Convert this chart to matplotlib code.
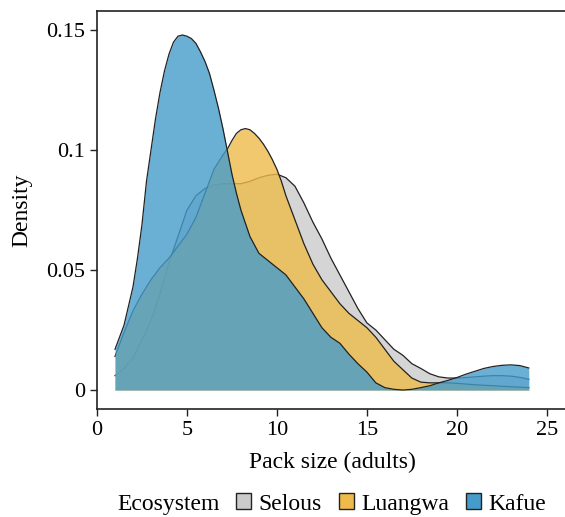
import matplotlib
matplotlib.use('Agg')
import matplotlib.pyplot as plt
from matplotlib.patches import Patch
from matplotlib.offsetbox import HPacker

plt.rcParams['font.family'] = ['Liberation Serif', 'DejaVu Serif']

# Selous: pack size grid and density
selous_x = [1.0, 1.5, 2.0, 2.5, 3.0, 3.5, 4.0, 4.5, 5.0, 5.5, 6.0, 6.5, 7.0, 7.5,
            8.0, 8.5, 9.0, 9.5, 10.0, 10.5, 11.0, 11.5, 12.0, 12.5, 13.0, 13.5,
            14.0, 14.5, 15.0, 15.5, 16.0, 16.5, 17.0, 17.5, 18.0, 18.5, 19.0,
            19.5, 20.0, 20.5, 21.0, 21.5, 22.0, 22.5, 23.0, 23.5, 24.0]
selous = [0.006, 0.009, 0.0135, 0.021, 0.029, 0.040, 0.053, 0.064, 0.075, 0.081,
          0.084, 0.0855, 0.086, 0.086, 0.086, 0.087, 0.0885, 0.0895, 0.090, 0.0885,
          0.085, 0.078, 0.070, 0.063, 0.055, 0.048, 0.041, 0.034, 0.028, 0.025,
          0.021, 0.017, 0.0145, 0.011, 0.009, 0.0068, 0.0055, 0.005, 0.005, 0.0052,
          0.0055, 0.0058, 0.006, 0.006, 0.0058, 0.0053, 0.0045]

# Luangwa
luangwa_x = [1.0, 1.5, 2.0, 2.5, 3.0, 3.5, 4.0, 4.5, 5.0, 5.5, 5.75, 6.0, 6.25,
             6.5, 6.75, 7.0, 7.25, 7.5, 7.75, 8.0, 8.25, 8.5, 8.75, 9.0, 9.25,
             9.5, 9.75, 10.0, 10.25, 10.5, 10.75, 11.0, 11.5, 12.0, 12.5, 13.0,
             13.5, 14.0, 14.5, 15.0, 15.5, 16.0, 16.5, 17.0, 17.5, 18.0, 18.5,
             19.0, 19.5, 20.0, 20.5, 21.0, 21.5, 22.0, 22.5, 23.0, 23.5, 24.0]
luangwa = [0.014, 0.024, 0.033, 0.040, 0.046, 0.051, 0.055, 0.060, 0.065, 0.072,
           0.077, 0.082, 0.087, 0.092, 0.095, 0.098, 0.1005, 0.104, 0.107, 0.1085,
           0.109, 0.1085, 0.107, 0.105, 0.1025, 0.0995, 0.096, 0.092, 0.087,
           0.081, 0.076, 0.071, 0.061, 0.0525, 0.046, 0.041, 0.036, 0.032, 0.029,
           0.026, 0.022, 0.017, 0.012, 0.0085, 0.005, 0.0033, 0.003, 0.003, 0.003,
           0.0028, 0.0025, 0.0022, 0.002, 0.0018, 0.0016, 0.0014, 0.0012, 0.001]

# Kafue
kafue_x = [1.0, 1.5, 2.0, 2.25, 2.5, 2.75, 3.0, 3.25, 3.5, 3.75, 4.0, 4.25, 4.5,
           4.75, 5.0, 5.25, 5.5, 5.75, 6.0, 6.25, 6.5, 6.75, 7.0, 7.25, 7.5, 7.75,
           8.0, 8.5, 9.0, 9.5, 10.0, 10.5, 11.0, 11.5, 12.0, 12.5, 13.0, 13.5,
           14.0, 14.5, 15.0, 15.5, 16.0, 16.5, 17.0, 17.5, 18.0, 18.5, 19.0,
           19.5, 20.0, 20.5, 21.0, 21.5, 22.0, 22.5, 23.0, 23.5, 24.0]
kafue = [0.017, 0.027, 0.043, 0.055, 0.069, 0.087, 0.100, 0.113, 0.124, 0.133,
         0.140, 0.145, 0.1475, 0.148, 0.1475, 0.1465, 0.1445, 0.141, 0.137, 0.132,
         0.125, 0.1175, 0.109, 0.0995, 0.090, 0.082, 0.075, 0.064, 0.057, 0.054,
         0.051, 0.048, 0.043, 0.038, 0.032, 0.026, 0.022, 0.0195, 0.015, 0.011,
         0.0075, 0.003, 0.001, 0.0003, 0.0, 0.0003, 0.001, 0.0018, 0.003, 0.004,
         0.0052, 0.0066, 0.0078, 0.009, 0.0098, 0.0103, 0.0105, 0.0102, 0.0092]

names = ['Selous', 'Luangwa', 'Kafue']
colors = ['#cbcbcb', '#eebb4a', '#459ccb']
series = [(selous_x, selous), (luangwa_x, luangwa), (kafue_x, kafue)]

fig = plt.figure(figsize=(5.65, 5.17), dpi=100)
ax = fig.add_axes([0.1717, 0.2089, 0.832, 0.7698])

# each group: fill then outline, stacked in order so later fills cover earlier lines
for i, ((xs, vals), c) in enumerate(zip(series, colors)):
    ax.fill_between(xs, 0, vals, color=c, alpha=0.8, linewidth=0, zorder=2 * i + 1)
    ax.plot(xs, vals, color='#222222', linewidth=0.9, zorder=2 * i + 2)

ax.set_xlim(0, 26.13)
ax.set_ylim(-0.0079, 0.158)
ax.set_xticks([0, 5, 10, 15, 20, 25])
ax.set_yticks([0, 0.05, 0.1, 0.15])
ax.set_yticklabels(['0', '0.05', '0.1', '0.15'])
ax.tick_params(direction='out', length=5, width=1, labelsize=16, color='#222222')
for s in ax.spines.values():
    s.set_linewidth(1.2)
    s.set_color('#222222')

ax.set_xlabel('Pack size (adults)', fontsize=17, labelpad=9)
ax.set_ylabel('Density', fontsize=17, labelpad=10)

handles = [Patch(facecolor=c, edgecolor='#222222', linewidth=1) for c in colors]
leg = fig.legend(handles, names, loc='center', bbox_to_anchor=(0.587, 0.025),
                 ncol=3, frameon=False, fontsize=17, title='Ecosystem',
                 title_fontsize=17, handlelength=0.65, handleheight=0.65,
                 handletextpad=0.3, columnspacing=0.72, borderaxespad=0)
# title on the same row as the keys
leg._legend_box._children = [HPacker(pad=0, sep=12, align='center',
                                     children=[leg._legend_title_box,
                                               leg._legend_handle_box])]

fig.savefig('out.png', dpi=100)
